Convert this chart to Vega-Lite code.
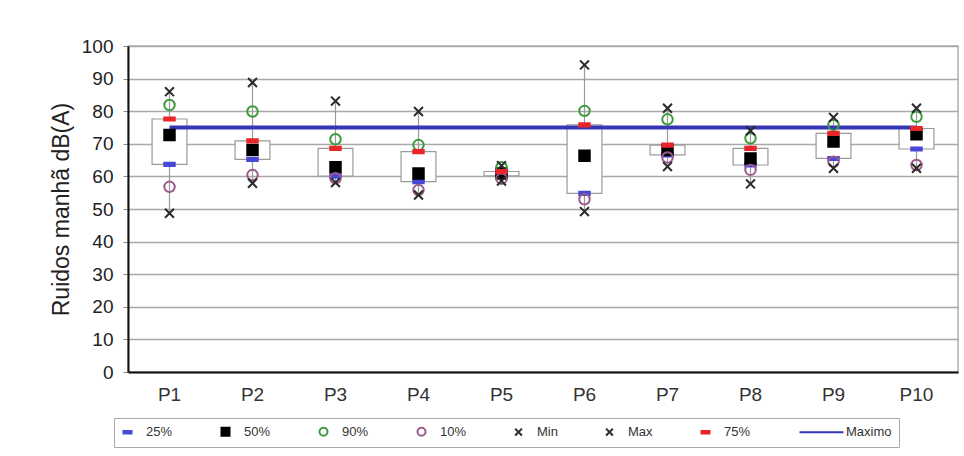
{
  "$schema": "https://vega.github.io/schema/vega-lite/v6.json",
  "width": 830,
  "height": 326,
  "autosize": {"type": "none"},
  "padding": {"left": 128, "top": 46, "right": 6, "bottom": 84},
  "background": "white",
  "config": {
    "font": "Liberation Sans",
    "view": {"stroke": "#b0b0b0", "strokeWidth": 1.5},
    "axisY": {
      "grid": true, "gridColor": "#a8a8a8", "gridWidth": 1.5,
      "domainColor": "#111", "domainWidth": 2,
      "tickColor": "#888", "tickSize": 5,
      "labelFontSize": 19, "labelColor": "#222", "labelPadding": 10,
      "titleFontSize": 23, "titleFontWeight": "normal", "titleColor": "#222", "titlePadding": 8,
      "tickCount": 10, "values": [0,10,20,30,40,50,60,70,80,90,100]
    },
    "axisX": {
      "grid": false, "domainColor": "#111", "domainWidth": 2,
      "ticks": false, "labelFontSize": 19, "labelColor": "#333", "labelPadding": 13,
      "labelAngle": 0, "title": null
    }
  },
  "datasets": {
    "stats": [
      {"P": "P1", "Min": 48.7, "10%": 56.8, "25%": 63.7, "50%": 72.7, "75%": 77.6, "90%": 81.9, "Max": 86.0},
      {"P": "P2", "Min": 57.9, "10%": 60.4, "25%": 65.2, "50%": 68.1, "75%": 70.9, "90%": 79.9, "Max": 88.8},
      {"P": "P3", "Min": 58.1, "10%": 59.4, "25%": 60.1, "50%": 62.8, "75%": 68.6, "90%": 71.4, "Max": 83.1},
      {"P": "P4", "Min": 54.3, "10%": 55.8, "25%": 58.4, "50%": 60.9, "75%": 67.6, "90%": 69.6, "Max": 79.9},
      {"P": "P5", "Min": 58.6, "10%": 59.3, "25%": 60.2, "50%": 60.9, "75%": 61.5, "90%": 62.8, "Max": 63.3},
      {"P": "P6", "Min": 49.2, "10%": 53.0, "25%": 54.8, "50%": 66.3, "75%": 75.8, "90%": 80.1, "Max": 94.2},
      {"P": "P7", "Min": 63.0, "10%": 65.8, "25%": 66.6, "50%": 68.1, "75%": 69.6, "90%": 77.5, "Max": 80.9},
      {"P": "P8", "Min": 57.7, "10%": 62.0, "25%": 63.5, "50%": 65.5, "75%": 68.6, "90%": 71.7, "Max": 74.0},
      {"P": "P9", "Min": 62.5, "10%": 64.5, "25%": 65.5, "50%": 70.7, "75%": 73.2, "90%": 75.8, "Max": 78.1},
      {"P": "P10", "Min": 62.5, "10%": 63.5, "25%": 68.4, "50%": 72.9, "75%": 74.7, "90%": 78.3, "Max": 80.9}
    ],
    "maximo": [
      {"P": "P1", "value": 75, "series": "Maximo"},
      {"P": "P10", "value": 75, "series": "Maximo"}
    ]
  },
  "encoding": {
    "x": {
      "field": "P", "type": "nominal",
      "sort": ["P1","P2","P3","P4","P5","P6","P7","P8","P9","P10"],
      "scale": {"type": "band", "domain": ["P1","P2","P3","P4","P5","P6","P7","P8","P9","P10"], "paddingInner": 0, "paddingOuter": 0}
    }
  },
  "layer": [
    {
      "data": {"name": "stats"},
      "mark": {"type": "rule", "color": "#9a9a9a", "strokeWidth": 1.2},
      "encoding": {
        "y": {"field": "Min", "type": "quantitative", "scale": {"domain": [0, 100], "nice": false}, "title": "Ruidos manhã dB(A)"},
        "y2": {"field": "Max"}
      }
    },
    {
      "data": {"name": "stats"},
      "mark": {"type": "bar", "fill": "white", "stroke": "#9a9a9a", "strokeWidth": 1.2, "width": {"band": 0.42}},
      "encoding": {
        "y": {"field": "25%", "type": "quantitative", "title": "Ruidos manhã dB(A)"},
        "y2": {"field": "75%"}
      }
    },
    {
      "data": {"name": "maximo"},
      "mark": {"type": "line", "strokeWidth": 4},
      "encoding": {
        "y": {"field": "value", "type": "quantitative", "title": "Ruidos manhã dB(A)"},
        "stroke": {
          "field": "series", "type": "nominal",
          "scale": {
            "domain": ["25%","50%","90%","10%","Min","Max","75%","Maximo"],
            "range": ["#4848d8","#000000","#3d9b3d","#9c5a8c","#2a2a2a","#2a2a2a","#e8262a","#3535b5"]
          }
        }
      }
    },
    {
      "data": {"name": "stats"},
      "transform": [{"fold": ["25%","50%","90%","10%","Min","Max","75%"], "as": ["series", "value"]}],
      "mark": {"type": "point", "filled": false, "size": 110, "strokeWidth": 2, "opacity": 1},
      "encoding": {
        "y": {"field": "value", "type": "quantitative", "title": "Ruidos manhã dB(A)"},
        "stroke": {
          "field": "series", "type": "nominal",
          "scale": {
            "domain": ["25%","50%","90%","10%","Min","Max","75%","Maximo"],
            "range": ["#4848d8","#000000","#3d9b3d","#9c5a8c","#2a2a2a","#2a2a2a","#e8262a","#3535b5"]
          },
          "legend": {
            "orient": "none", "legendX": -14, "legendY": 372,
            "direction": "horizontal", "columns": 8, "title": null,
            "symbolSize": 64, "symbolStrokeWidth": 2,
            "labelFontSize": 13, "labelColor": "#333", "labelOffset": 12,
            "columnPadding": 44, "gridAlign": "each", "padding": 7,
            "strokeColor": "#aaaaaa", "fillColor": "white"
          }
        },
        "fill": {
          "field": "series", "type": "nominal",
          "scale": {
            "domain": ["25%","50%","90%","10%","Min","Max","75%","Maximo"],
            "range": ["#4848d8","#000000","transparent","transparent","transparent","transparent","#e8262a","transparent"]
          }
        },
        "shape": {
          "field": "series", "type": "nominal",
          "scale": {
            "domain": ["25%","50%","90%","10%","Min","Max","75%","Maximo"],
            "range": [
              "M-1,-0.3H1V0.3H-1Z",
              "square",
              "circle",
              "circle",
              "M-0.85,-0.85L0.85,0.85M-0.85,0.85L0.85,-0.85",
              "M-0.85,-0.85L0.85,0.85M-0.85,0.85L0.85,-0.85",
              "M-1,-0.3H1V0.3H-1Z",
              "M-7,0H4"
            ]
          }
        }
      }
    }
  ]
}
